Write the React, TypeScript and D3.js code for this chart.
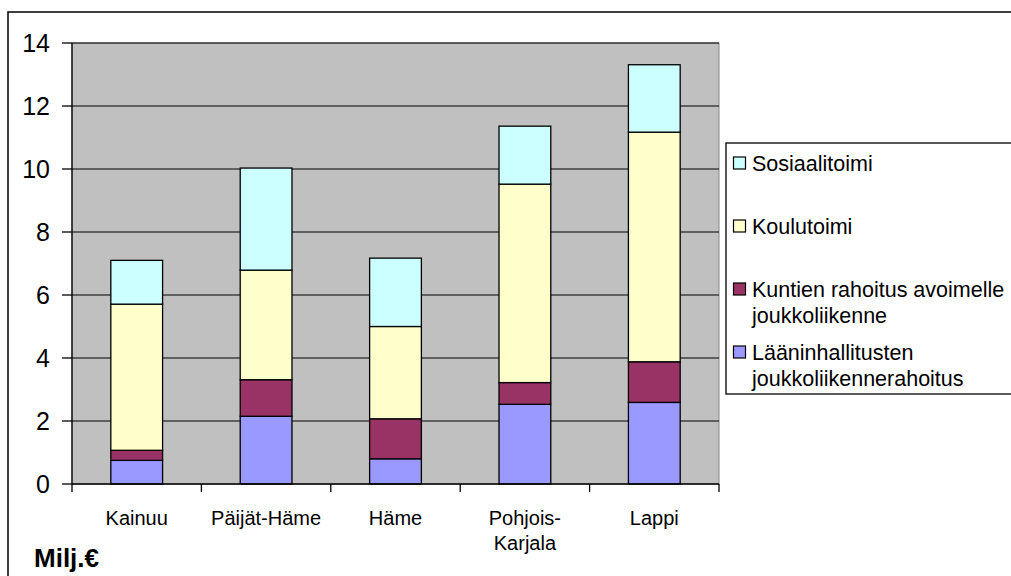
import React from 'react';
import * as d3 from 'd3';

const regions = ['Kainuu', 'Päijät-Häme', 'Häme', 'Pohjois-Karjala', 'Lappi'];
const regionLines = [['Kainuu'], ['Päijät-Häme'], ['Häme'], ['Pohjois-', 'Karjala'], ['Lappi']];

// bottom to top
const seriesNames = ['Lääninhallitusten joukkoliikennerahoitus', 'Kuntien rahoitus avoimelle joukkoliikenne', 'Koulutoimi', 'Sosiaalitoimi'];
const laaninhallitus = [0.75, 2.15, 0.8, 2.53, 2.59];
const kuntien = [0.32, 1.16, 1.27, 0.69, 1.29];
const koulutoimi = [4.64, 3.48, 2.93, 6.3, 7.29];
const sosiaalitoimi = [1.39, 3.24, 2.17, 1.84, 2.14];
const colors = ['#9999ff', '#993366', '#ffffcc', '#ccffff'];

const yTicks = [0, 2, 4, 6, 8, 10, 12, 14];

// legend rows, top to bottom
const legendItems = [
  { lines: ['Sosiaalitoimi'], color: '#ccffff' },
  { lines: ['Koulutoimi'], color: '#ffffcc' },
  { lines: ['Kuntien rahoitus avoimelle', 'joukkoliikenne'], color: '#993366' },
  { lines: ['Lääninhallitusten', 'joukkoliikennerahoitus'], color: '#9999ff' },
];
const legendY = [163, 226, 289, 352];

const font = '"Liberation Sans", Arial, sans-serif';

export default function App() {
  const left = 72, right = 719, top = 43, bottom = 484;

  const rows = regions.map((r, i) => ({
    region: r,
    s0: laaninhallitus[i],
    s1: kuntien[i],
    s2: koulutoimi[i],
    s3: sosiaalitoimi[i],
  }));
  const stacked = d3.stack<any>().keys(['s0', 's1', 's2', 's3'])(rows);

  const x = d3.scaleBand().domain(regions).range([left, right]).paddingInner(0.6).paddingOuter(0.3);
  const band = d3.scaleBand().domain(regions).range([left, right]);
  const y = d3.scaleLinear().domain([0, 14]).range([bottom, top]);

  return (
    <svg width={1011} height={576} style={{ position: 'absolute', left: 0, top: 0, background: '#fff' }}>
      <rect x={8} y={12} width={1010} height={580} fill="#fff" stroke="#000" strokeWidth={1.5} />
      <rect x={left} y={top} width={right - left} height={bottom - top} fill="#c0c0c0" stroke="#888" strokeWidth={1} />
      {yTicks.filter((t) => t > 0).map((t) => (
        <line key={t} x1={left} x2={right} y1={y(t)} y2={y(t)} stroke="#000" strokeWidth={1.2} />
      ))}
      {stacked.map((s, si) => (
        <g key={si}>
          {s.map((d: any, i: number) => (
            <rect
              key={i}
              x={x(regions[i])}
              y={y(d[1])}
              width={x.bandwidth()}
              height={y(d[0]) - y(d[1])}
              fill={colors[si]}
              stroke="#000"
              strokeWidth={1.3}
            >
              <title>{seriesNames[si]}</title>
            </rect>
          ))}
        </g>
      ))}
      {/* axes */}
      <line x1={left} x2={left} y1={top} y2={bottom + 8} stroke="#000" strokeWidth={1.3} />
      <line x1={left} x2={right} y1={bottom} y2={bottom} stroke="#000" strokeWidth={1.3} />
      {yTicks.map((t) => (
        <g key={t}>
          <line x1={left - 10} x2={left} y1={y(t)} y2={y(t)} stroke="#000" strokeWidth={1.3} />
          <text x={50} y={y(t)} dy="0.36em" textAnchor="end" fontFamily={font} fontSize={25} fill="#000">
            {t}
          </text>
        </g>
      ))}
      {regions.map((r, i) => (
        <line key={r} x1={(band(r) as number) + band.bandwidth()} x2={(band(r) as number) + band.bandwidth()} y1={bottom} y2={bottom + 8} stroke="#000" strokeWidth={1.3} />
      ))}
      {regionLines.map((lines, i) => (
        <text key={i} fontFamily={font} fontSize={20} textAnchor="middle" fill="#000">
          {lines.map((l, j) => (
            <tspan key={j} x={(x(regions[i]) as number) + x.bandwidth() / 2} y={518 + j * 25} dy="0.36em">
              {l}
            </tspan>
          ))}
        </text>
      ))}
      <text x={34} y={567} fontFamily={font} fontSize={26} fontWeight="bold" fill="#000">Milj.€</text>
      {/* legend */}
      <rect x={726} y={143} width={300} height={251} fill="#fff" stroke="#000" strokeWidth={1.3} />
      {legendItems.map((it, i) => (
        <g key={i}>
          <rect x={733.5} y={legendY[i] - 6} width={12} height={12} fill={it.color} stroke="#000" strokeWidth={1.2} />
          <text fontFamily={font} fontSize={21.5} fill="#000">
            {it.lines.map((l, j) => (
              <tspan key={j} x={752} y={legendY[i] + j * 26} dy="0.36em">{l}</tspan>
            ))}
          </text>
        </g>
      ))}
    </svg>
  );
}
